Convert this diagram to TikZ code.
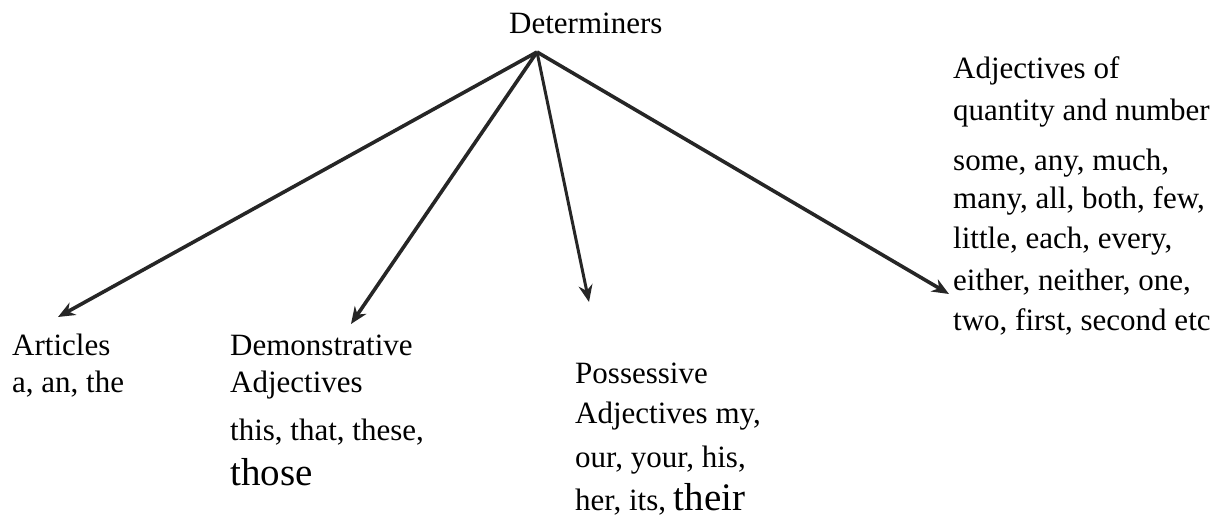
\documentclass[tikz,border=0pt]{standalone}
\usepackage{fontspec}
\setmainfont{Liberation Serif}
\usetikzlibrary{arrows.meta}
\begin{document}
\begin{tikzpicture}[x=1pt,y=-1pt,
  lbl/.style={anchor=base west, inner sep=0pt, font=\fontsize{31}{37}\selectfont},
  conn/.style={line width=3.6pt, draw=black!85, -{Stealth[length=17pt,width=14pt]}}]
\useasboundingbox (0,0) rectangle (1225,517);
% top
\node[lbl] (det) at (509,33) {Determiners};
\coordinate (apex) at (537,52);
% Articles
\node[lbl] (art1) at (12,355) {Articles};
\node[lbl] (art2) at (12,392) {a, an, the};
% Demonstrative
\node[lbl] (dem1) at (230,355) {Demonstrative};
\node[lbl] (dem2) at (230,392) {Adjectives};
\node[lbl] (dem3) at (230,440) {this, that, these,};
\node[lbl] (dem4) at (230,485) {\fontsize{39}{44}\selectfont those};
% Possessive
\node[lbl] (pos1) at (575,383) {Possessive};
\node[lbl] (pos2) at (575,423) {Adjectives my,};
\node[lbl] (pos3) at (575,467) {our, your, his,};
\node[lbl] (pos4) at (575,510) {her, its, {\fontsize{39}{44}\selectfont their}};
% Quantity
\node[lbl] (q1) at (953,78) {Adjectives of};
\node[lbl] (q2) at (953,120) {quantity and number};
\node[lbl] (q3) at (953,170) {some, any, much,};
\node[lbl] (q4) at (953,208) {many, all, both, few,};
\node[lbl] (q5) at (953,248) {little, each, every,};
\node[lbl] (q6) at (953,290) {either, neither, one,};
\node[lbl] (q7) at (953,330) {two, first, second etc};
% arrow tips
\coordinate (tArt) at (58,317);
\coordinate (tDem) at (351,324);
\coordinate (tPos) at (589,302);
\coordinate (tQ) at (949,294);
\draw[conn] (apex) -- (tArt);
\draw[conn] (apex) -- (tDem);
\draw[conn, line width=3pt] (apex) -- (tPos);
\draw[conn] (apex) -- (tQ);
\end{tikzpicture}
\end{document}
